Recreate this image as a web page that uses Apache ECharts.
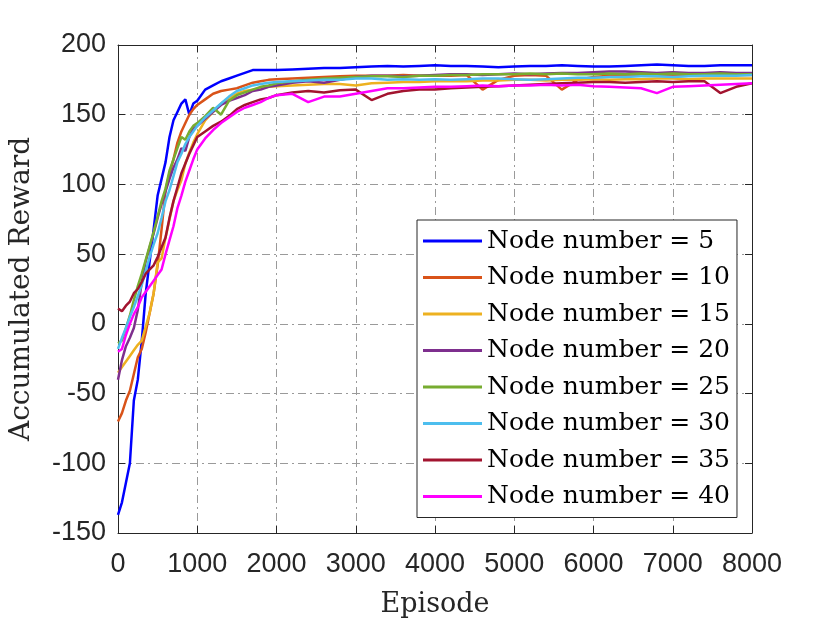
<!DOCTYPE html>
<html>
<head>
    <meta charset="utf-8" />
    <title>Accumulated Reward</title>
    <style>
        html, body { margin: 0; padding: 0; background: #fff; }
        #linechart { width: 830px; height: 623px; }
    </style>
</head>
<body>
    <div id="linechart"></div>
    <script src="https://cdn.jsdelivr.net/npm/echarts@6/dist/echarts.min.js"></script>
    <script>
        var episodes = [0, 50, 100, 150, 200, 250, 300, 350, 400, 450, 500, 550, 600, 650, 700, 750, 800, 850, 900, 950, 1000,
            1100, 1200, 1300, 1400, 1500, 1600, 1700, 1800, 1900, 2000,
            2200, 2400, 2600, 2800, 3000, 3200, 3400, 3600, 3800, 4000,
            4200, 4400, 4600, 4800, 5000, 5200, 5400, 5600, 5800, 6000,
            6200, 6400, 6600, 6800, 7000, 7200, 7400, 7600, 7800, 8000];

        var node5 = [-137, -128, -114, -100, -55, -40, -12, 22, 45, 68, 92, 104, 116, 134, 146, 152, 158, 161, 150, 158, 160,
            168, 171, 174, 176, 178, 180, 182, 182, 182, 182,
            182.5, 183, 183.5, 183.5, 184, 184.5, 185, 184.5, 185, 185.5,
            185, 185, 184.5, 184, 184.5, 185, 185, 185.5, 185, 184.5,
            184.5, 185, 185.5, 186, 185.5, 185, 185, 185.5, 185.5, 185.5];
        var node10 = [-70, -64, -55, -48, -36, -24, -18, -6, 8, 22, 42, 68, 96, 108, 118, 130, 138, 144, 150, 154, 157,
            161, 165, 167, 168, 169, 171, 173, 174, 175, 175.5,
            176, 176.5, 177, 177.5, 178, 178, 178, 178.5, 178, 178,
            178, 178.5, 168, 175, 178, 178.5, 178, 168, 175, 177,
            178, 178, 178.5, 178, 178.5, 178, 178.5, 178, 178.5, 178.5];
        var node15 = [-35, -31, -27, -23, -19, -15, -12, -2, 8, 22, 44, 47, 62, 75, 88, 96, 103, 115, 123, 130, 136,
            146, 152, 158, 162, 165, 167, 168, 169, 170, 170.5,
            171, 171.5, 172, 172, 171, 172.5, 173, 173.5, 173.5, 174,
            174, 174, 174.5, 174.5, 175, 175, 174.5, 175, 175, 175.5,
            175, 175.5, 175.5, 176, 176, 175.5, 176, 176, 176, 176];
        var node20 = [-40, -26, -16, -10, -3, 10, 30, 45, 55, 65, 76, 86, 95, 104, 112, 118, 126, 124, 134, 140, 142,
            147, 152, 157, 160, 162, 164, 167, 168, 170, 171,
            173, 174, 173, 175, 177, 178, 178, 177.5, 178, 178.5,
            179, 179, 178.5, 179, 179.5, 179, 179.5, 180, 180, 180.5,
            181, 181, 180.5, 180, 180.5, 180, 180, 180.5, 180, 180];
        var node25 = [-14, -12, -3, 6, 17, 27, 36, 46, 56, 66, 77, 88, 97, 110, 118, 126, 134, 132, 138, 142, 144,
            149, 155, 150, 160, 164, 166, 168, 170, 171, 172.5,
            174, 175, 176, 176.5, 177, 177.5, 177.5, 177, 178, 178,
            178.5, 178.5, 179, 179, 179, 179.5, 179, 179.5, 179, 179,
            179.5, 179, 179.5, 179, 179.5, 179, 179, 179.5, 179, 179];
        var node30 = [-18, -10, -3, 5, 12, 20, 28, 38, 48, 57, 65, 76, 88, 96, 106, 116, 122, 129, 134, 138, 142,
            148, 153, 158, 163, 167, 169, 171, 172, 173, 173.5,
            174, 174.5, 175, 175, 176, 176, 175, 175.5, 175, 175.5,
            175, 175.5, 176, 176, 175.5, 175, 175.5, 176, 176.5, 176.5,
            177, 177, 177.5, 177.5, 177, 177.5, 178, 178, 178, 178.5];
        var node35 = [11, 9, 13, 16, 22, 25, 30, 36, 39, 42, 48, 55, 62, 76, 88, 98, 108, 115, 122, 128, 134,
            138, 142, 145, 149, 154, 157, 159, 161, 162, 164,
            166, 167, 166, 167.5, 168, 160.5, 165, 167, 168, 168,
            169, 169.5, 170, 170.5, 171, 171.5, 172, 172.5, 173, 173.5,
            173.5, 173, 173.5, 174, 173.5, 174, 174, 165.5, 170, 172.5];
        var node40 = [-20, -18, -8, 0, 7, 12, 19, 23, 27, 31, 35, 39, 50, 60, 70, 83, 92, 102, 110, 118, 125,
            133, 139, 144, 148, 152, 155, 157, 159, 162, 164,
            165, 159, 163, 163, 165, 167, 169, 169, 169.5, 170,
            170, 170.5, 171, 170.5, 171, 171, 171.5, 171, 171.5, 170.5,
            170, 169.5, 169, 165.5, 170, 170.5, 171, 171.5, 172, 172.5];

        var names = ['Node number = 5', 'Node number = 10', 'Node number = 15', 'Node number = 20',
            'Node number = 25', 'Node number = 30', 'Node number = 35', 'Node number = 40'];
        var colors = ['#0000FF', '#D95319', '#EDB120', '#7E2F8E', '#77AC30', '#4DBEEE', '#A2142F', '#FF00FF'];
        var values = [node5, node10, node15, node20, node25, node30, node35, node40];

        var axisColor = '#262626';
        var series = values.map(function (vals, k) {
            return {
                name: names[k],
                type: 'line',
                xAxisIndex: 0,
                yAxisIndex: 0,
                showSymbol: false,
                symbol: 'none',
                data: episodes.map(function (e, i) { return [e, vals[i]]; }),
                lineStyle: { width: 2.5, color: colors[k] },
                itemStyle: { color: colors[k] }
            };
        });

        var gridLine = { show: true, lineStyle: { color: '#9a9a9a', width: 1, type: [8, 4, 2, 4] } };

        var option = {
            backgroundColor: '#fff',
            animation: false,
            grid: { left: 115, right: 78, top: 45, bottom: 90 },
            legend: {
                orient: 'vertical',
                left: 417,
                top: 220,
                padding: [8, 7, 8, 6],
                itemGap: 10.5,
                itemWidth: 59,
                itemHeight: 3,
                icon: 'rect',
                backgroundColor: '#fff',
                borderColor: axisColor,
                borderWidth: 1,
                borderRadius: 0,
                textStyle: { fontFamily: 'DejaVu Serif', fontSize: 25, color: '#000', lineHeight: 26 },
                data: names
            },
            xAxis: [{
                type: 'value',
                min: 0,
                max: 8000,
                interval: 1000,
                position: 'bottom',
                name: 'Episode',
                nameLocation: 'middle',
                nameGap: 58,
                nameTextStyle: { fontFamily: 'DejaVu Serif', fontSize: 27, color: axisColor },
                axisLine: { show: true, onZero: false, lineStyle: { color: axisColor, width: 1 } },
                axisTick: { show: true, inside: true, length: 7, lineStyle: { color: axisColor } },
                axisLabel: {
                    fontFamily: 'Liberation Sans', fontSize: 27, color: axisColor, margin: 18,
                    formatter: function (v) { return String(v); }
                },
                splitLine: gridLine
            }, {
                type: 'value',
                min: 0,
                max: 8000,
                interval: 1000,
                position: 'top',
                axisLine: { show: true, onZero: false, lineStyle: { color: axisColor, width: 1 } },
                axisTick: { show: true, inside: true, length: 7, lineStyle: { color: axisColor } },
                axisLabel: { show: false },
                splitLine: { show: false }
            }],
            yAxis: [{
                type: 'value',
                min: -150,
                max: 200,
                interval: 50,
                position: 'left',
                name: 'Accumulated Reward',
                nameLocation: 'middle',
                nameGap: 82,
                nameTextStyle: { fontFamily: 'DejaVu Serif', fontSize: 28, color: axisColor },
                axisLine: { show: true, onZero: false, lineStyle: { color: axisColor, width: 1 } },
                axisTick: { show: true, inside: true, length: 7, lineStyle: { color: axisColor } },
                axisLabel: { fontFamily: 'Liberation Sans', fontSize: 27, color: axisColor, margin: 12 },
                splitLine: gridLine
            }, {
                type: 'value',
                min: -150,
                max: 200,
                interval: 50,
                position: 'right',
                axisLine: { show: true, onZero: false, lineStyle: { color: axisColor, width: 1 } },
                axisTick: { show: true, inside: true, length: 7, lineStyle: { color: axisColor } },
                axisLabel: { show: false },
                splitLine: { show: false }
            }],
            series: series
        };

        var lineChart = echarts.init(document.getElementById('linechart'));
        lineChart.setOption(option);
    </script>
</body>
</html>
